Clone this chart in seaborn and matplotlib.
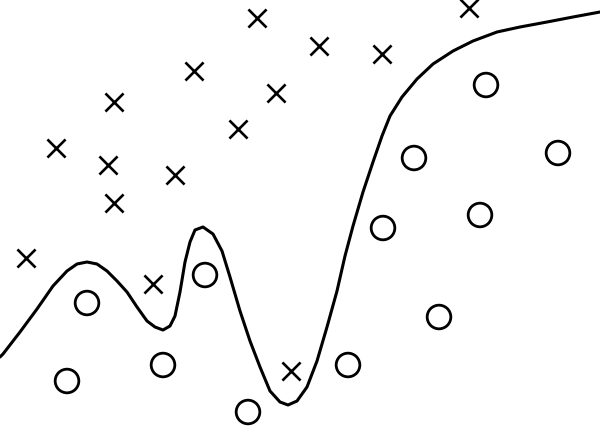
import numpy as np
import pandas as pd
import matplotlib
matplotlib.use("Agg")
import matplotlib.pyplot as plt
import seaborn as sns

sns.set_style("white")

# class "x" points (pixel coords, y measured from the top)
cross_x = [257, 469, 319, 382, 194, 114, 276, 238, 56, 108, 175, 114, 26, 153, 291]
cross_y = [19, 9, 47, 55, 72, 103, 94, 130, 149, 166, 176, 204, 259, 285, 372]

# class "o" points
circ_x = [486, 414, 558, 480, 383, 205, 87, 439, 163, 348, 67, 248]
circ_y = [86, 159, 154, 216, 229, 276, 304, 318, 366, 366, 382, 413]

# decision boundary
curve_x = [0, 3, 20, 37, 53, 67, 77, 87, 97, 107, 117, 127, 137, 147, 155, 163,
           170, 175, 180, 185, 190, 195, 203, 213, 222, 230, 240, 250, 260, 270,
           280, 288, 297, 307, 317, 327, 337, 345, 353, 363, 373, 382, 390, 402,
           417, 433, 453, 473, 497, 520, 547, 573, 600]
curve_y = [358, 355, 333, 310, 287, 272, 265, 263, 265, 272, 282, 293, 308, 322, 328, 331,
           327, 317, 293, 263, 243, 231, 228, 235, 252, 278, 312, 342, 368, 392,
           403, 406, 402, 388, 362, 328, 292, 257, 227, 193, 163, 137, 117, 98,
           80, 65, 52, 42, 33, 28, 23, 18, 13]

pts = pd.DataFrame({
    "x": cross_x + circ_x,
    "y": cross_y + circ_y,
    "cls": ["x"] * len(cross_x) + ["o"] * len(circ_x),
})

fig = plt.figure(figsize=(6, 4.27), dpi=100)
ax = fig.add_axes([0, 0, 1, 1])

sns.lineplot(x=curve_x, y=curve_y, sort=False, estimator=None, color="black",
             linewidth=2.2, ax=ax)

sns.scatterplot(data=pts[pts.cls == "x"], x="x", y="y", marker="x", s=170,
                color="black", linewidth=1.9, ax=ax, legend=False)
sns.scatterplot(data=pts[pts.cls == "o"], x="x", y="y", marker="o", s=290,
                facecolor="none", edgecolor="black", linewidth=2, ax=ax,
                legend=False)

ax.set_xlim(0, 600)
ax.set_ylim(427, 0)
ax.set_axis_off()

fig.savefig("out.png", dpi=100)
